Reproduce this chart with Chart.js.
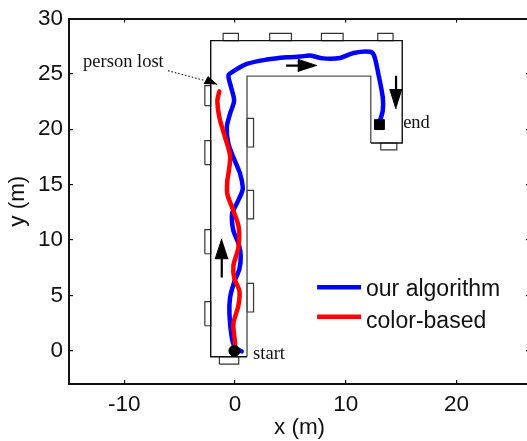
<!DOCTYPE html>
<html>
<head>
<meta charset="utf-8">
<style>html,body{margin:0;padding:0;background:#fff}canvas{display:block}</style>
<script src="https://cdn.jsdelivr.net/npm/chart.js@4"></script>
</head>
<body>
<canvas id="c" width="527" height="441"></canvas>
<script>
const xTicks = [-10, 0, 10, 20];
const yTicks = [0, 5, 10, 15, 20, 25, 30];
const ourAlgorithm = [[0.6,-0.06],[0,0.3],[-0.3,1.2],[-0.51,3.34],[-0.45,4.81],[-0.09,6.17],[0.39,7.38],[0.51,8.58],[0.33,9.64],[-0.15,10.84],[-0.27,12.38],[0.15,13.28],[0.61,14.3],[0.7,14.75],[0.45,16],[-0.15,17.46],[-0.6,18.7],[-0.75,20.17],[-0.45,21.41],[-0.09,22.58],[-0.36,23.79],[-0.6,24.84],[-0.3,25.14],[1.06,25.9],[2.86,26.29],[4.67,26.5],[5.87,26.56],[6.78,26.65],[7.95,26.4],[9.49,26.44],[10.69,26.89],[12.2,27],[12.56,26.65],[12.94,25],[13.34,22.88],[13.34,21.68],[13.04,20.62]];
const colorBased = [[-0.06,0],[0,0.63],[-0.15,2.44],[0.3,4.07],[0.39,5.42],[-0.06,6.5],[-0.15,7.68],[0.3,9.33],[0.33,11.14],[-0.15,12.65],[-0.7,14.16],[-0.7,15.36],[-0.6,15.96],[-0.45,17.6],[-0.9,19.27],[-1.42,21.07],[-1.6,22.58],[-1.42,23.42]];
const outerWall = [[1.08,-0.54],[-2.2,-0.54],[-2.2,28],[15.1,28],[15.1,18.76],[12.26,18.76]];
const innerWall = [[1.08,-0.54],[1.08,24.8],[12.26,24.8],[12.26,18.76]];
const doorways = [
  [-2.73,22.13,-2.2,23.94],[-2.73,16.8,-2.2,18.97],[-2.73,8.76,-2.2,10.93],[-2.73,2.26,-2.2,4.43],
  [1.08,18.4,1.67,20.98],[1.08,11.9,1.67,14.48],[1.08,3.5,1.67,6.08],
  [-1.42,-1.2,0.33,-0.54],
  [-1.08,28,0.3,28.65],[3.13,28,5.09,28.65],[7.8,28,9.76,28.65],[12.89,28,14.27,28.65],
  [13.16,18.13,14.61,18.76]
];
const arrowShafts = [[[-1.2,6.62],[-1.2,8.4]],[[4.61,25.74],[5.78,25.74]],[[14.54,24.84],[14.54,23.49]]];
const arrowHeads = [
  [[-1.2,10.12],[-1.79,8.31],[-0.61,8.31]],
  [[7.41,25.74],[5.72,26.3],[5.72,25.2]],
  [[14.54,21.83],[13.98,23.58],[15.1,23.58]],
  [[-2.8,24.09],[-2.44,24.75],[-1.63,24.03]]
];
const lostPointer = [[-6.05,25.29],[-2.71,24.39]];
const startPoint = [[-0.06,0]];
const endPoint = [[13.04,20.42]];
const notes = [["person lost",-13.73,25.65],["start",1.63,-0.72],["end",15.18,20.14]];
const legendEntries = [["our algorithm","#0000ff",5.74,4.97],["color-based","#ff0000",3.07,2.1]];
const legendLineX = [7.41,11.38];
const legendTextX = 11.83;

const pts = a => a.map(p => ({x:p[0], y:p[1]}));
const line = (data,color,width,order,extra) => Object.assign({data:pts(data),borderColor:color,backgroundColor:color,borderWidth:width,pointRadius:0,showLine:true,tension:0,order:order,fill:false},extra||{});
const datasets = [];
datasets.push(line(ourAlgorithm,"#0000ff",4.5,3,{label:"our algorithm",tension:0.3,borderCapStyle:"round",borderJoinStyle:"round"}));
datasets.push(line(colorBased,"#ff0000",4.5,2,{label:"color-based",tension:0.3,borderCapStyle:"round",borderJoinStyle:"round"}));
datasets.push(line(outerWall,"#111",1.4,5,{label:"wall"}));
datasets.push(line(innerWall,"#555",1.4,5,{label:"wall inner"}));
doorways.forEach(r => datasets.push(line([[r[0],r[1]],[r[2],r[1]],[r[2],r[3]],[r[0],r[3]],[r[0],r[1]]],"#333",1.2,5,{label:"door"})));
arrowShafts.forEach(a => datasets.push(line(a,"#000",2.2,1,{label:"arrow"})));
arrowHeads.forEach(a => datasets.push(line(a,"#000",1,1,{label:"arrowhead",fill:"shape"})));
datasets.push(line(lostPointer,"#222",1.2,1,{label:"pointer",borderDash:[1.5,2]}));
datasets.push({label:"start",data:pts(startPoint),pointStyle:"circle",pointRadius:5.5,backgroundColor:"#000",borderColor:"#000",order:0});
datasets.push({label:"end",data:pts(endPoint),pointStyle:"rect",pointRadius:7,backgroundColor:"#000",borderColor:"#000",order:0});

const frameRight = 530;
const annot = {
  id:"annot",
  afterLayout(ch){
    const a = ch.chartArea;
    a.right = frameRight; a.width = frameRight - a.left;
    [ch.scales.x, ch.scales.x2].forEach(s => { s.right = frameRight; s.width = frameRight - s.left; s.configure(); });
    const r = ch.scales.y2; r.left = frameRight; r.right = frameRight; r.configure();
  },
  afterDatasetsDraw(ch){
    const c = ch.ctx, X = ch.scales.x, Y = ch.scales.y;
    c.save();
    c.fillStyle = "#111"; c.textBaseline = "alphabetic"; c.textAlign = "left";
    c.font = "18.5px 'Liberation Serif'";
    notes.forEach(n => c.fillText(n[0], X.getPixelForValue(n[1]), Y.getPixelForValue(n[2])));
    c.font = "23px 'Liberation Sans'";
    legendEntries.forEach(e => {
      c.strokeStyle = e[1]; c.lineWidth = 4.5;
      c.beginPath();
      c.moveTo(X.getPixelForValue(legendLineX[0]), Y.getPixelForValue(e[2]));
      c.lineTo(X.getPixelForValue(legendLineX[1]), Y.getPixelForValue(e[2]));
      c.stroke();
      c.fillText(e[0], X.getPixelForValue(legendTextX), Y.getPixelForValue(e[3]));
    });
    c.restore();
  }
};
const setTicks = arr => s => { s.ticks = arr.map(v => ({value:v})); };
const noPad = s => { s.paddingLeft = s.paddingRight = s.paddingTop = s.paddingBottom = 0; };
const gridOpt = {drawOnChartArea:false,drawTicks:true,tickLength:-4,color:"#111",lineWidth:1.2};
const borderOpt = {display:true,color:"#111",width:2};
const font = {family:"'Liberation Sans'",size:22.5};
new Chart(document.getElementById("c"),{
  type:"scatter",
  data:{datasets},
  plugins:[annot],
  options:{
    responsive:false,animation:false,
    plugins:{legend:{display:false},tooltip:{enabled:false}},
    layout:{padding:0},
    scales:{
      x:{type:"linear",position:"bottom",min:-15,max:26.64,afterBuildTicks:setTicks(xTicks),afterFit(s){s.height=57;noPad(s)},
        grid:gridOpt,border:borderOpt,
        ticks:{font,color:"#111",padding:11,maxRotation:0,autoSkip:false,callback:v=>String(v)},
        title:{display:true,text:"x (m)",font,color:"#111",padding:{top:0,bottom:0}}},
      x2:{type:"linear",position:"top",min:-15,max:26.64,afterBuildTicks:setTicks(xTicks),afterFit(s){s.height=18.5;noPad(s)},
        grid:gridOpt,border:borderOpt,ticks:{display:false}},
      y:{type:"linear",position:"left",min:-3,max:30,afterBuildTicks:setTicks(yTicks),afterFit(s){s.width=69;noPad(s)},
        grid:gridOpt,border:borderOpt,
        ticks:{font,color:"#111",padding:10,autoSkip:false,callback:v=>String(v)},
        title:{display:true,text:"y (m)",font,color:"#111",padding:{top:4,bottom:0}}},
      y2:{type:"linear",position:"right",min:-3,max:30,afterBuildTicks:setTicks(yTicks),afterFit(s){s.width=0;noPad(s)},
        grid:gridOpt,border:borderOpt,ticks:{display:false}}
    }
  }
});
</script>
</body>
</html>
